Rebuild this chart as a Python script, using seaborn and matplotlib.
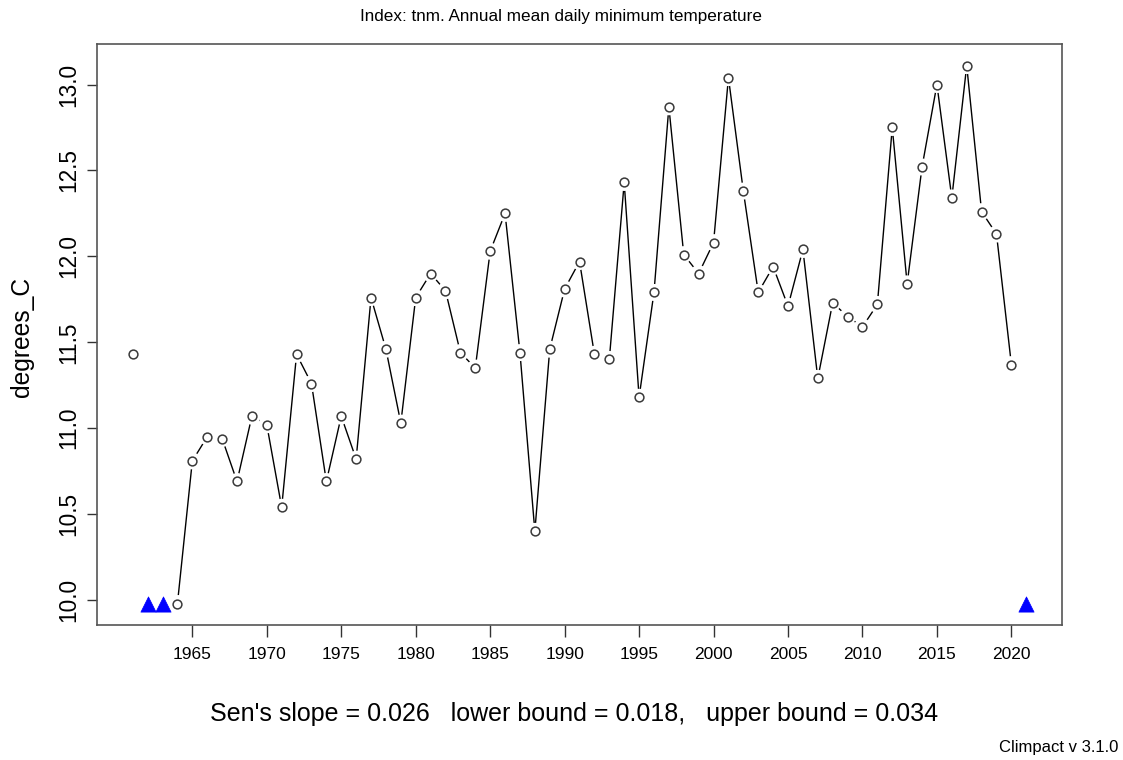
import numpy as np
import pandas as pd
import seaborn as sns
import matplotlib.pyplot as plt

# Annual mean daily minimum temperature (degrees C); NaN = missing year
years = list(range(1961, 2022))
tnm = [11.43, np.nan, np.nan, 9.98, 10.81, 10.95, 10.94, 10.69, 11.07, 11.02,
       10.54, 11.43, 11.26, 10.69, 11.07, 10.82, 11.76, 11.46, 11.03, 11.76,
       11.90, 11.80, 11.44, 11.35, 12.03, 12.25, 11.44, 10.40, 11.46, 11.81,
       11.97, 11.43, 11.40, 12.43, 11.18, 11.79, 12.87, 12.01, 11.90, 12.08,
       13.04, 12.38, 11.79, 11.94, 11.71, 12.04, 11.29, 11.73, 11.65, 11.59,
       11.72, 12.75, 11.84, 12.52, 13.00, 12.34, 13.11, 12.26, 12.13, 11.37,
       np.nan]
x_ticks = list(range(1965, 2021, 5))
y_ticks = [10.0, 10.5, 11.0, 11.5, 12.0, 12.5, 13.0]

title = "Index: tnm. Annual mean daily minimum temperature"
ylabel = "degrees_C"
trend_text = "Sen's slope = 0.026   lower bound = 0.018,   upper bound = 0.034"
credit = "Climpact v 3.1.0"

df = pd.DataFrame({"year": years, "tnm": tnm})
df["missing"] = df["tnm"].isna()
# consecutive runs of valid years -> separate line segments
df["segment"] = df["missing"].cumsum()
valid = df[~df["missing"]]
missing = df[df["missing"]].copy()
missing["tnm"] = valid["tnm"].min()

sns.set_style("white")
plt.rcParams["font.family"] = ["Liberation Sans", "DejaVu Sans"]
plt.rcParams["text.color"] = "black"
plt.rcParams["xtick.color"] = "black"
plt.rcParams["ytick.color"] = "black"

fig = plt.figure(figsize=(11.23, 7.6), dpi=100)
ax = fig.add_axes([0.0864, 0.1776, 0.8593, 0.7644])

sns.lineplot(data=valid, x="year", y="tnm", units="segment", estimator=None,
             color="black", linewidth=1.0, ax=ax, zorder=1)
# white halo to leave small gaps around points (like R type="b")
sns.scatterplot(data=valid, x="year", y="tnm", marker="o", s=150,
                color="white", edgecolor="none", linewidth=0, ax=ax, zorder=2)
sns.scatterplot(data=valid, x="year", y="tnm", marker="o", s=40,
                facecolor="white", edgecolor="#3a3a3a", linewidth=1.1, ax=ax, zorder=3)
sns.scatterplot(data=missing, x="year", y="tnm", marker="^", s=120,
                color="#0000ff", edgecolor="#0000ff", linewidth=0.5, ax=ax, zorder=3)

span_x = years[-1] - years[0]
ax.set_xlim(years[0] - 0.04 * span_x, years[-1] + 0.04 * span_x)
lo, hi = valid["tnm"].min(), valid["tnm"].max()
ax.set_ylim(lo - 0.04 * (hi - lo), hi + 0.04 * (hi - lo))

ax.set_xticks(x_ticks)
ax.set_xticklabels([str(t) for t in x_ticks], fontsize=12.5)
ax.set_yticks(y_ticks)
ax.set_yticklabels([f"{t:.1f}" for t in y_ticks], fontsize=16.3, rotation=90, va="center")
ax.tick_params(axis="x", direction="out", length=8.5, width=1, color="#333333",
               labelcolor="black", bottom=True, pad=7)
ax.tick_params(axis="y", direction="out", length=7, width=1, color="#333333",
               labelcolor="black", left=True, pad=5)
ax.set_xlabel("")
ax.set_ylabel("")
for sp in ax.spines.values():
    sp.set_visible(True)
    sp.set_color("#555555")
    sp.set_linewidth(1.2)

fig.text(0.5, 0.978, title, ha="center", va="center", fontsize=12.3)
fig.text(0.0196, 1 - 337 / 760, ylabel, ha="center", va="center", rotation=90, fontsize=17.7)
fig.text(0.511, 0.0605, trend_text, ha="center", va="center", fontsize=18)
fig.text(0.9955, 0.016, credit, ha="right", va="center", fontsize=12)

plt.savefig("out.png", dpi=100)
